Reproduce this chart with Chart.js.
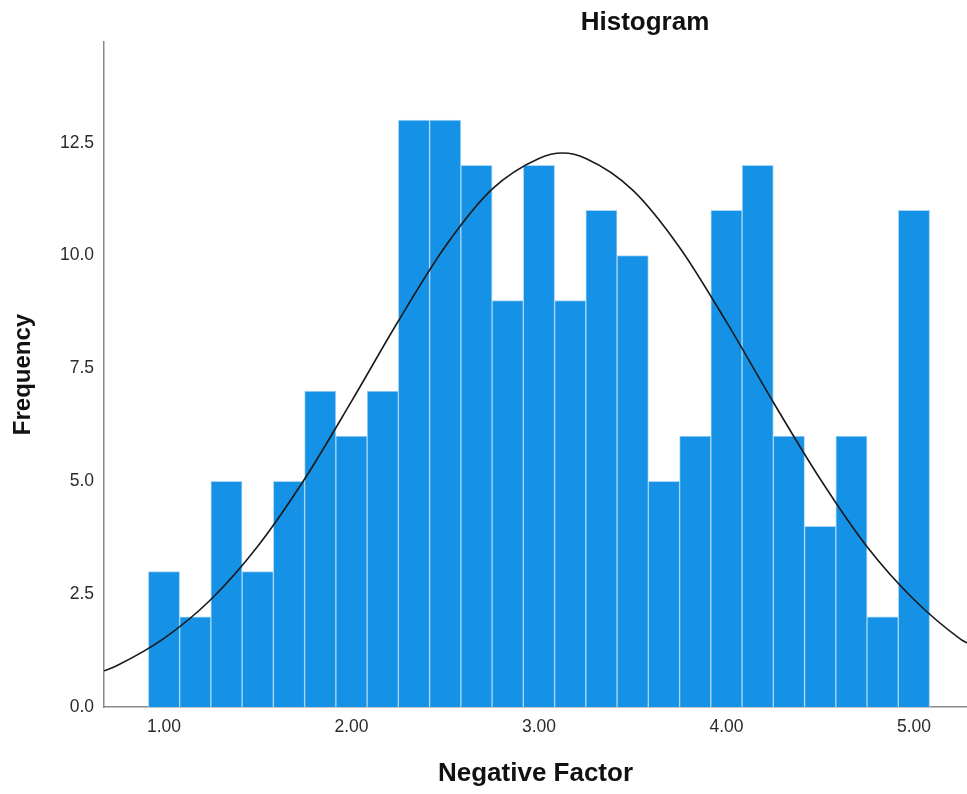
<!DOCTYPE html>
<html>
<head>
<meta charset="utf-8">
<title>Histogram</title>
<script src="https://cdn.jsdelivr.net/npm/chart.js@4"></script>
<style>
  html, body { margin: 0; padding: 0; background: #fff; }
  canvas { display: block; }
</style>
</head>
<body>
<canvas id="histChart" width="967" height="794"></canvas>
<script>
// Bin centres (bin width 1/6) and frequencies per bin
const binCenters = [1.0000, 1.1667, 1.3333, 1.5000, 1.6667, 1.8333, 2.0000, 2.1667, 2.3333,
                    2.5000, 2.6667, 2.8333, 3.0000, 3.1667, 3.3333, 3.5000, 3.6667, 3.8333,
                    4.0000, 4.1667, 4.3333, 4.5000, 4.6667, 4.8333, 5.0000];
const frequencies = [3, 2, 5, 3, 5, 7, 6, 7, 13, 13, 12, 9, 12, 9, 11, 10, 5, 6, 11, 12, 6, 4, 6, 2, 11];

const curveX = [0.68, 0.75, 1.00, 1.25, 1.50, 1.75, 2.00, 2.25, 2.50, 2.75, 3.00, 3.125,
                3.25, 3.50, 3.75, 4.00, 4.25, 4.50, 4.75, 5.00, 5.25, 5.283];
const curveY = [0.80, 0.92, 1.52, 2.38, 3.56, 5.05, 6.77, 8.55, 10.20, 11.47, 12.15, 12.27,
                12.15, 11.45, 10.18, 8.53, 6.75, 5.05, 3.55, 2.38, 1.50, 1.42];

// Tick labels
const xTicks = [1, 2, 3, 4, 5];
const yTicks = [0, 2.5, 5, 7.5, 10, 12.5];

const FONT = "'Liberation Sans', Arial, sans-serif";

const titlePlugin = {
    id: 'spssTitle',
    afterDraw(chart) {
        const ctx = chart.ctx;
        ctx.save();
        ctx.font = `bold 26px ${FONT}`;
        ctx.fillStyle = '#111';
        ctx.textAlign = 'center';
        ctx.textBaseline = 'middle';
        ctx.fillText('Histogram', chart.width * 0.667, 23);
        ctx.restore();
    }
};

new Chart(document.getElementById('histChart'), {
    type: 'bar',
    data: {
        datasets: [
            {
                type: 'line',
                order: 0,
                data: curveX.map((x, i) => ({ x, y: curveY[i] })),
                borderColor: '#1a1a1a',
                borderWidth: 1.6,
                pointRadius: 0,
                cubicInterpolationMode: 'monotone',
                fill: false
            },
            {
                order: 1,
                data: binCenters.map((x, i) => ({ x, y: frequencies[i] })),
                backgroundColor: '#1591e6',
                borderColor: '#a9d6f6',
                borderWidth: 1,
                borderSkipped: 'bottom',
                barPercentage: 1.0,
                categoryPercentage: 1.0
            }
        ]
    },
    options: {
        responsive: false,
        animation: false,
        layout: { padding: { top: 42, right: 0, left: 0, bottom: 0 } },
        plugins: {
            legend: { display: false },
            tooltip: { enabled: false }
        },
        scales: {
            x: {
                type: 'linear',
                min: 0.68,
                max: 5.283,
                offset: false,
                grid: { display: false, drawTicks: false },
                border: { display: true, color: '#8a8a8a', width: 1.5 },
                afterBuildTicks: (scale) => { scale.ticks = xTicks.map(v => ({ value: v })); },
                ticks: {
                    padding: 10,
                    color: '#2b2b2b',
                    font: { family: FONT, size: 17.5 },
                    callback: (v) => Number(v).toFixed(2)
                },
                title: {
                    display: true,
                    text: 'Negative Factor',
                    color: '#111',
                    font: { family: FONT, size: 26, weight: 'bold' },
                    padding: { top: 0, bottom: 5 }
                },
                afterFit: (scale) => { scale.height = 87; }
            },
            y: {
                min: 0,
                max: 14.73,
                grid: { display: false, drawTicks: false },
                border: { display: true, color: '#8a8a8a', width: 1.5 },
                afterBuildTicks: (scale) => { scale.ticks = yTicks.map(v => ({ value: v })); },
                ticks: {
                    padding: 10,
                    color: '#2b2b2b',
                    font: { family: FONT, size: 17.5 },
                    callback: (v) => Number(v).toFixed(1)
                },
                title: {
                    display: true,
                    text: 'Frequency',
                    color: '#111',
                    font: { family: FONT, size: 24, weight: 'bold' },
                    padding: { top: 9, bottom: 0 }
                },
                afterFit: (scale) => { scale.width = 104; }
            }
        }
    },
    plugins: [titlePlugin]
});
</script>
</body>
</html>
